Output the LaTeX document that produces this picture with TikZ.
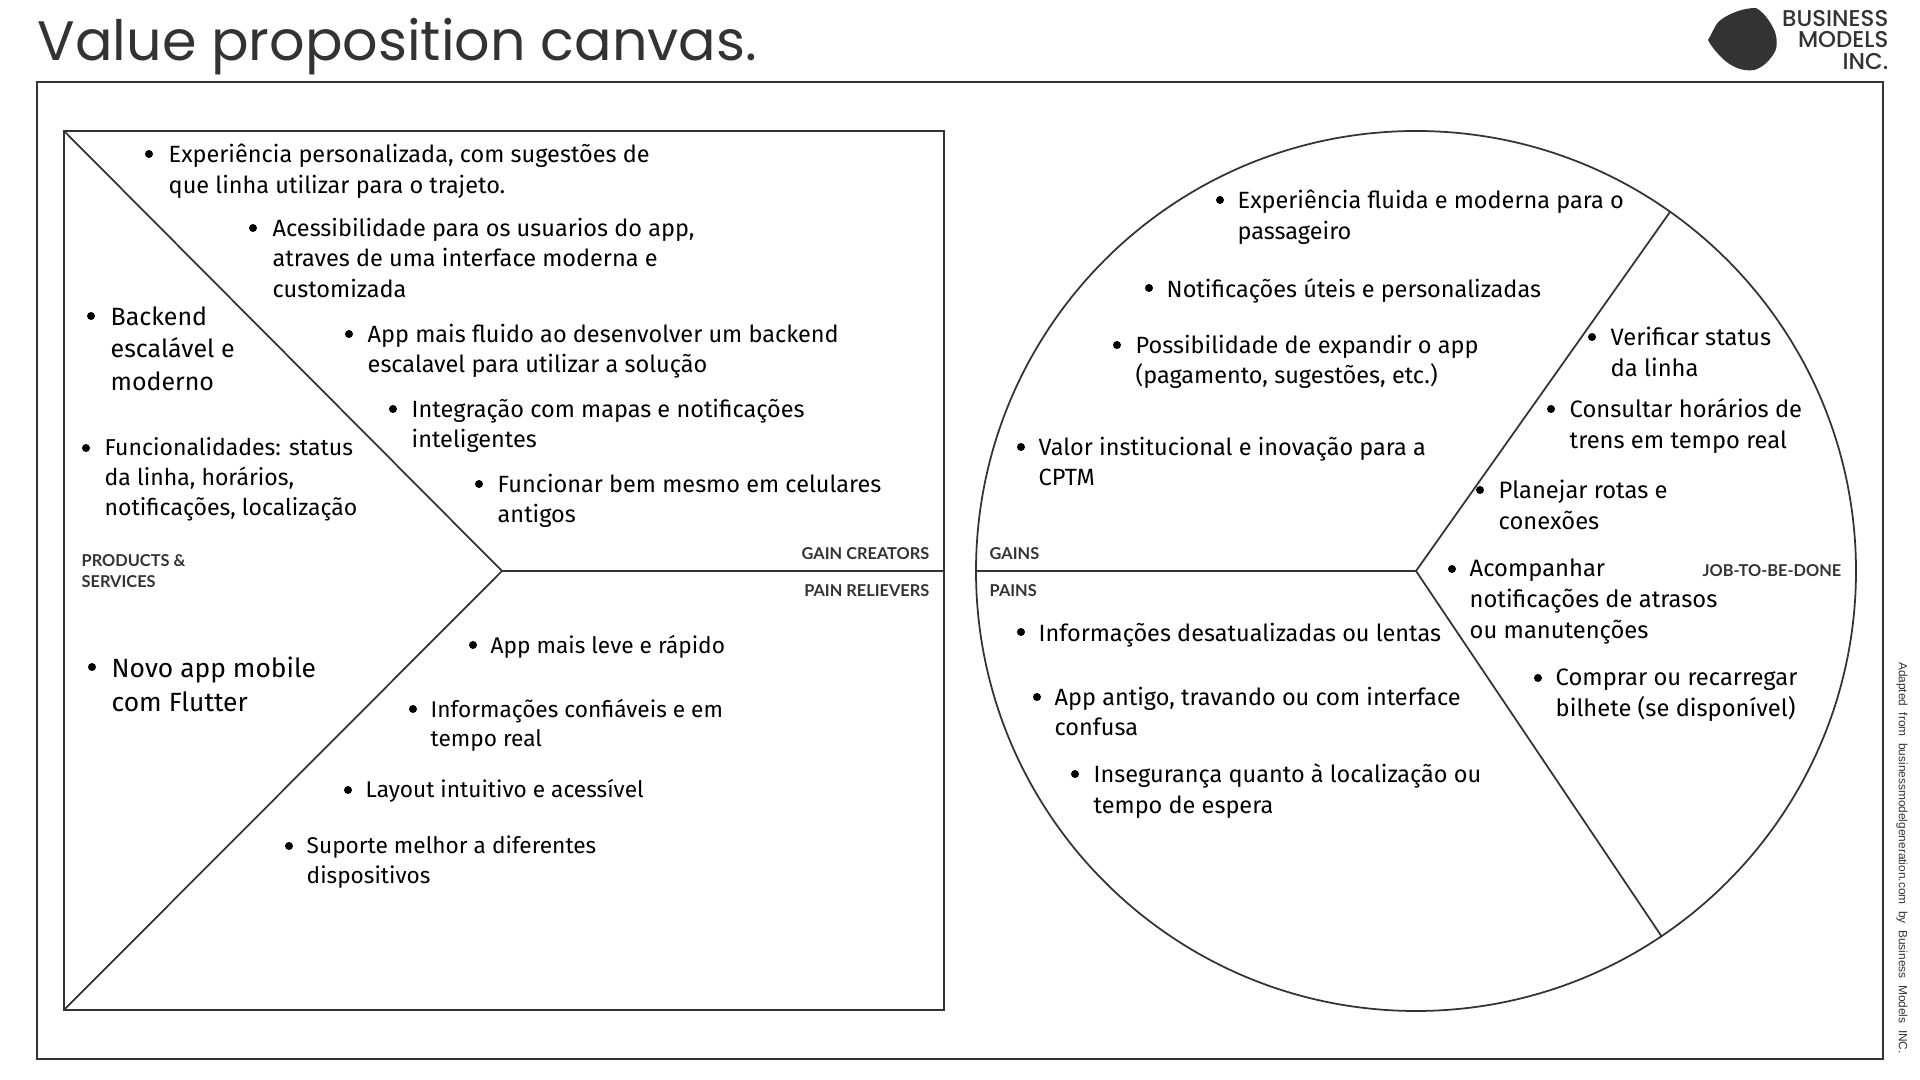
\documentclass[tikz,border=0pt]{standalone}
\usepackage{fontspec}
\usepackage{tikz}
\setmainfont{Fira Sans}
\newfontfamily\titlefont{Poppins}
\newfontfamily\brandfont{Poppins}[UprightFont=* Medium]
\newfontfamily\tagfont{Lato}[UprightFont=* Bold]
\newfontfamily\notefont{Liberation Sans}
\definecolor{ink}{HTML}{333333}
\tikzset{
    item/.style={anchor=north west, align=left, inner sep=0pt, yshift=0.108cm, text=black,
        font=\fontsize{6.68}{8.7}\selectfont, execute at begin node=\strut},
    itemjob/.style={item, font=\fontsize{6.75}{8.8}\selectfont},
    itemsmall/.style={item, font=\fontsize{6.45}{8.5}\selectfont},
    itemmid/.style={item, font=\fontsize{6.55}{8.45}\selectfont},
    itembig/.style={item, font=\fontsize{7.1}{9.2}\selectfont},
    itemhuge/.style={item, font=\fontsize{7.5}{9.7}\selectfont},
    dot/.style={circle, fill=black, inner sep=0pt, minimum size=0.08cm},
    lbl/.style={inner sep=0pt, text=ink, font=\tagfont\fontsize{4.65}{6.2}\selectfont},
    frame/.style={draw=ink, line width=0.7pt},
    spoke/.style={draw=ink, line width=0.5pt}
}
\begin{document}
\begin{tikzpicture}[x=0.01cm, y=-0.01cm]
    \useasboundingbox (0,0) rectangle (1920,1080);

    \node[anchor=west, inner sep=0pt, text=ink, font=\titlefont\fontsize{15.8}{20}\selectfont] (title) at (37,47) {Value proposition canvas.};

    % logo
    \fill[ink] (1708,40) .. controls (1714,30) and (1716,22) .. (1722,19) .. controls (1732,12) and (1745,8) .. (1756,8)
        .. controls (1764,12) and (1772,24) .. (1775,32) .. controls (1778,42) and (1777,50) .. (1773,55)
        .. controls (1768,62) and (1762,68) .. (1754,70) .. controls (1742,72) and (1730,66) .. (1722,58) .. controls (1716,52) and (1711,46) .. (1708,40) -- cycle;
    \node[anchor=east, align=right, inner sep=0pt, text=ink, font=\brandfont\fontsize{6.5}{6.1}\selectfont] (brand) at (1889,40) {BUSINESS\\MODELS\\INC.};

    % frames
    \draw[frame] (37,82) rectangle (1883,1059);
    \coordinate (sqtl) at (64,131);
    \coordinate (sqbl) at (64,1010);
    \coordinate (sqr) at (944,571);
    \coordinate (apex) at (502,571);
    \draw[frame] (sqtl) rectangle (944,1010);
    \draw[spoke] (sqtl) -- (apex) -- (sqbl);
    \draw[spoke] (apex) -- (sqr);

    \coordinate (hub) at (1416,571);
    \coordinate (circl) at (976,571);
    \coordinate (circtop) at (1670,212);
    \coordinate (circbot) at (1662,937);
    \draw[spoke] (hub) circle (440);
    \draw[spoke] (circl) -- (hub);
    \draw[spoke] (circtop) -- (hub) -- (circbot);

    % labels
    \node[lbl, anchor=east] (gaincreators) at (930,554) {GAIN CREATORS};
    \node[lbl, anchor=east] (painrelievers) at (930,591) {PAIN RELIEVERS};
    \node[lbl, anchor=west] (gains) at (989,554) {GAINS};
    \node[lbl, anchor=west] (pains) at (989,591) {PAINS};
    \node[lbl, anchor=west, align=left] (products) at (81,571) {PRODUCTS \&\\SERVICES};
    \node[lbl, anchor=east] (jobs) at (1842,571) {JOB-TO-BE-DONE};
    \node[inner sep=0pt, rotate=-90, text=ink, font=\notefont\fontsize{3.38}{4}\selectfont, anchor=center] (credit) at (1902,858) {Adapted\ \ from\ \ businessmodelgeneration.com\ \ by\ \ Business\ \ Models\ \ INC.};

    % gain creators
    \node[dot] at (149,154) {};
    \node[item] (gc1) at (168,154) {Experiência personalizada, com sugestões de\\que linha utilizar para o trajeto.};
    \node[dot] at (253,228) {};
    \node[item] (gc2) at (272,228) {Acessibilidade para os usuarios do app,\\atraves de uma interface moderna e\\customizada};
    \node[dot] at (349,334) {};
    \node[item] (gc3) at (367,334) {App mais fluido ao desenvolver um backend\\escalavel para utilizar a solução};
    \node[dot] at (393,409) {};
    \node[item] (gc4) at (411,409) {Integração com mapas e notificações\\inteligentes};
    \node[dot] at (479,484) {};
    \node[item] (gc5) at (497,484) {Funcionar bem mesmo em celulares\\antigos};

    % products and services
    \node[dot] at (91,316) {};
    \node[itembig] (ps1) at (110,317) {Backend\\escalável e\\moderno};
    \node[dot] at (86,448) {};
    \node[itemmid] (ps2) at (104,448) {Funcionalidades: status\\da linha, horários,\\notificações, localização};
    \node[dot] at (92,667) {};
    \node[itemhuge] (ps3) at (111,667) {Novo app mobile\\com Flutter};

    % pain relievers
    \node[dot] at (473,645) {};
    \node[itemsmall] (pr1) at (490,643) {App mais leve e rápido};
    \node[dot] at (413,709) {};
    \node[itemsmall] (pr2) at (430,709) {Informações confiáveis e em\\tempo real};
    \node[dot] at (348,790) {};
    \node[itemsmall] (pr3) at (365,787) {Layout intuitivo e acessível};
    \node[dot] at (289,846) {};
    \node[itemsmall] (pr4) at (306,846) {Suporte melhor a diferentes\\dispositivos};

    % gains
    \node[dot] at (1220,200) {};
    \node[item] (ga1) at (1237,200) {Experiência fluida e moderna para o\\passageiro};
    \node[dot] at (1149,288) {};
    \node[item] (ga2) at (1166,286) {Notificações úteis e personalizadas};
    \node[dot] at (1117,345) {};
    \node[item] (ga3) at (1135,345) {Possibilidade de expandir o app\\(pagamento, sugestões, etc.)};
    \node[dot] at (1021,447) {};
    \node[item] (ga4) at (1038,447) {Valor institucional e inovação para a\\CPTM};

    % pains
    \node[dot] at (1021,632) {};
    \node[item] (pa1) at (1038,630) {Informações desatualizadas ou lentas};
    \node[dot] at (1037,697) {};
    \node[item] (pa2) at (1054,697) {App antigo, travando ou com interface\\confusa};
    \node[dot] at (1075,774) {};
    \node[item] (pa3) at (1093,774) {Insegurança quanto à localização ou\\tempo de espera};

    % jobs
    \node[dot] at (1592,337) {};
    \node[itemjob] (jb1) at (1610,337) {Verificar status\\da linha};
    \node[dot] at (1551,409) {};
    \node[itemjob] (jb2) at (1569,409) {Consultar horários de\\trens em tempo real};
    \node[dot] at (1480,490) {};
    \node[itemjob] (jb3) at (1498,490) {Planejar rotas e\\conexões};
    \node[dot] at (1452,569) {};
    \node[itemjob] (jb4) at (1469,569) {Acompanhar\\notificações de atrasos\\ou manutenções};
    \node[dot] at (1538,678) {};
    \node[itemjob] (jb5) at (1555,679) {Comprar ou recarregar\\bilhete (se disponível)};
\end{tikzpicture}
\end{document}
